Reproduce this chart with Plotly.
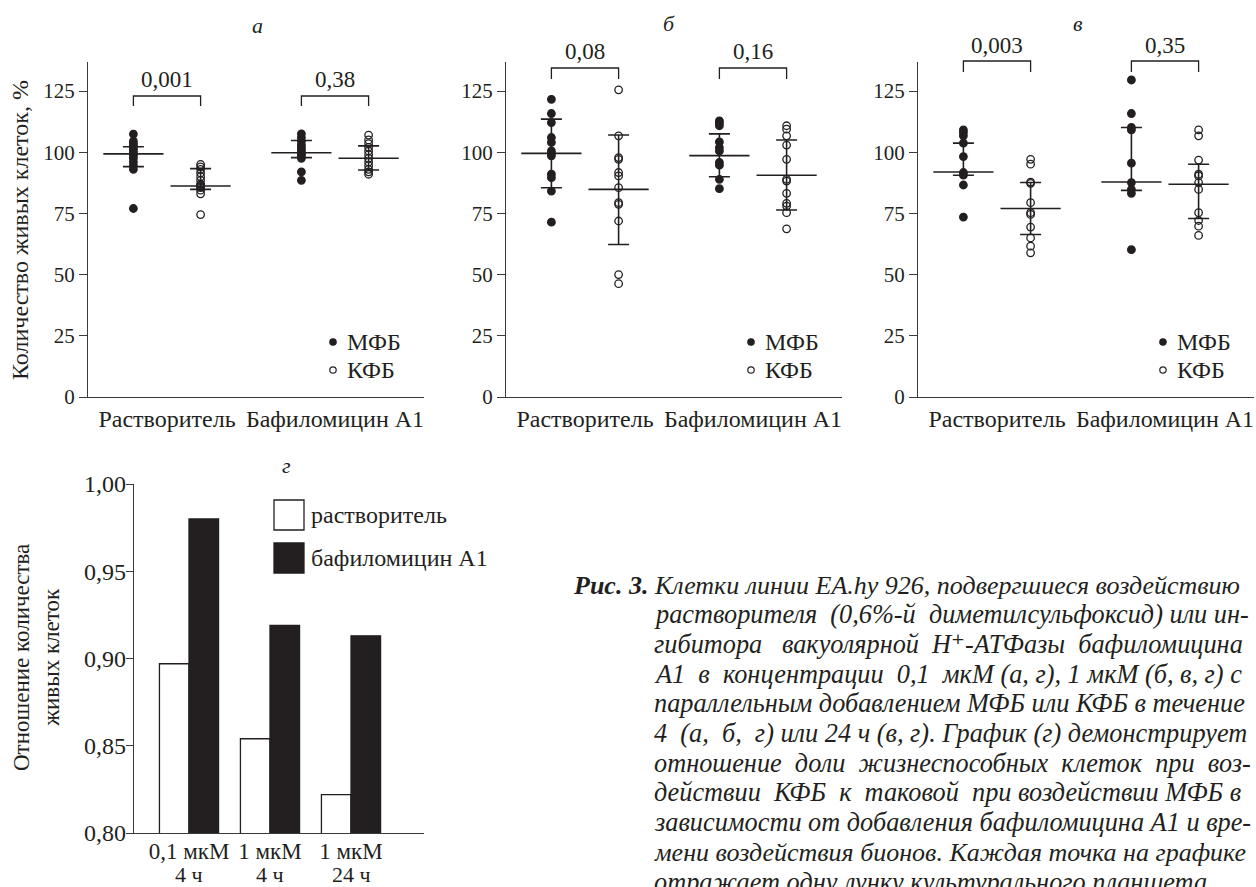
import plotly.graph_objects as go

W, H = 1256, 887
FONT = "'Liberation Serif', 'Times New Roman', Tinos, 'DejaVu Serif', serif"
INK = "#231f20"

# ---------------- data ----------------
groups = ["Растворитель", "Бафиломицин А1"]
series = ["МФБ", "КФБ"]
panel_titles = ["а", "б", "в"]
y_ticks = [0, 25, 50, 75, 100, 125]

# panel а  (0,1 мкМ, 4 ч)
a_mfb_solv = [107.4, 104.5, 103.5, 102.5, 101.5, 100.5, 99.5, 98.5, 97.5, 96, 94.5, 93, 77]
a_kfb_solv = [95, 94, 93, 91.5, 90, 88.5, 87, 86.5, 86, 85.5, 84.5, 83, 74.5]
a_mfb_baf = [107.5, 106, 104.5, 103, 102, 101, 100, 99.5, 98.5, 97.5, 92, 88.5]
a_kfb_baf = [107, 105, 103.5, 102, 100.5, 99, 97.5, 96, 94.5, 93, 92, 91]
a_center = [99.3, 86.2, 99.8, 97.5]
a_upper = [102.2, 93.3, 104.8, 102.6]
a_lower = [94.1, 84.8, 97.8, 92.7]
a_p = ["0,001", "0,38"]

# panel б  (1 мкМ, 4 ч)
b_mfb_solv = [121.6, 115.8, 112.1, 106.0, 104.0, 100.5, 99.5, 98.5, 91.0, 89.6, 84.1, 71.4]
b_kfb_solv = [125.5, 106.7, 97.8, 97.1, 91.7, 90.3, 85.5, 79.4, 78.7, 71.9, 50.0, 46.3]
b_mfb_baf = [112.8, 111.9, 110.8, 104.2, 101.9, 100.5, 95.8, 94.7, 88.9, 85.1]
b_kfb_baf = [110.8, 109.4, 106.7, 102.9, 97.1, 88.9, 88.2, 83.2, 79.1, 78.0, 75.3, 68.7]
b_center = [99.5, 84.8, 98.6, 90.6]
b_upper = [113.5, 107.0, 107.5, 105.0]
b_lower = [85.5, 62.3, 90.0, 76.4]
b_p = ["0,08", "0,16"]

# panel в  (1 мкМ, 24 ч)
c_mfb_solv = [109.1, 108.0, 106.7, 103.7, 98.2, 91.7, 90.6, 86.6, 73.5]
c_kfb_solv = [97.1, 95.1, 87.8, 87.3, 79.4, 75.3, 74.6, 69.4, 65.0, 61.6, 58.9]
c_mfb_baf = [129.5, 115.8, 110.1, 109.1, 95.5, 87.6, 84.8, 83.2, 60.2]
c_kfb_baf = [109.1, 106.7, 96.8, 91.0, 90.3, 87.6, 84.8, 75.3, 72.1, 69.8, 66.0]
c_center = [91.9, 77.0, 87.8, 86.9]
c_upper = [103.7, 87.6, 110.1, 95.1]
c_lower = [90.6, 66.4, 84.4, 72.9]
c_p = ["0,003", "0,35"]

# panel г
g_cat_line1 = ["0,1 мкМ", "1 мкМ", "1 мкМ"]
g_cat_line2 = ["4 ч", "4 ч", "24 ч"]
g_solvent = [0.897, 0.854, 0.822]
g_bafilomycin = [0.980, 0.919, 0.913]
g_series = ["растворитель", "бафиломицин А1"]
g_ticks = [0.80, 0.85, 0.90, 0.95, 1.00]

caption_lines = [
    "<b>Рис. 3.</b> Клетки линии EA.hy 926, подвергшиеся воздействию",
    "растворителя (0,6%-й диметилсульфоксид) или ин-",
    "гибитора вакуолярной H\u207a-АТФазы бафиломицина",
    "А1 в концентрации 0,1 мкМ (а, г), 1 мкМ (б, в, г) с",
    "параллельным добавлением МФБ или КФБ в течение",
    "4 (а, б, г) или 24 ч (в, г). График (г) демонстрирует",
    "отношение доли жизнеспособных клеток при воз-",
    "действии КФБ к таковой при воздействии МФБ в",
    "зависимости от добавления бафиломицина А1 и вре-",
    "мени воздействия бионов. Каждая точка на графике",
    "отражает одну лунку культурального планшета.",
]
# extra non-breaking spaces per line to imitate the justified typesetting
caption_extra = [0, 2, 4, 4, 0, 3, 5, 4, 0, 0, 0]
caption_size = [26, 26.3, 26.3, 26.3, 26.3, 26.3, 26.3, 26.3, 26.3, 26.0, 26.3]


def justify(text, extra):
    words = text.split(" ")
    gaps = len(words) - 1
    if extra <= 0 or gaps <= 0:
        return text
    out = words[0]
    for k in range(gaps):
        n = extra // gaps + (1 if k < extra % gaps else 0)
        out += " " + "\u00a0" * n + words[k + 1]
    return out


# ---------------- layout helpers ----------------
def px(x):
    return x / W


def py(y):
    return 1 - y / H


fig = go.Figure()
panels = [
    (a_mfb_solv, a_kfb_solv, a_mfb_baf, a_kfb_baf, a_center, a_upper, a_lower, a_p),
    (b_mfb_solv, b_kfb_solv, b_mfb_baf, b_kfb_baf, b_center, b_upper, b_lower, b_p),
    (c_mfb_solv, c_kfb_solv, c_mfb_baf, c_kfb_baf, c_center, c_upper, c_lower, c_p),
]
axis_left = [88, 506, 918]
PW = 336
PT, PB = 62, 397
UNIT = 168.0          # px per group
G0 = 79.0             # px from axis to first group centre
OFF = 0.2             # series offset in group units
bracket_y = [(96, 106, 80), (68, 79, 52), (61, 72, 46)]
title_pos = [(257, 26), (669, 23), (1078, 23)]

shapes = []
annotations = []
TICKF = dict(family=FONT, size=21, color=INK)
TF = dict(family=FONT, size=24, color=INK)
PF = dict(family=FONT, size=23, color=INK)


def ann(x, y, text, font, xanchor="center", yanchor="middle", xref="paper", yref="paper", **kw):
    annotations.append(dict(x=x, y=y, xref=xref, yref=yref, text=text, showarrow=False,
                            font=font, xanchor=xanchor, yanchor=yanchor, **kw))


for i, (ms, ks, mb, kb, cen, up, lo, pv) in enumerate(panels):
    xa = "x" + ("" if i == 0 else str(i + 1))
    ya = "y" + ("" if i == 0 else str(i + 1))
    cols = [ms, ks, mb, kb]
    xpos = [g + (-OFF if s == 0 else OFF) for g in range(2) for s in range(2)]
    for j, vals in enumerate(cols):
        filled = j % 2 == 0
        fig.add_trace(go.Scatter(
            x=[xpos[j]] * len(vals), y=vals, mode="markers",
            xaxis=xa, yaxis=ya, cliponaxis=False,
            marker=dict(symbol="circle" if filled else "circle-open", size=7.5,
                        color=INK, line=dict(color=INK, width=1.3)),
            showlegend=False, hoverinfo="y"))
    fig.add_trace(go.Scatter(
        x=xpos, y=cen, mode="markers", xaxis=xa, yaxis=ya, cliponaxis=False,
        marker=dict(symbol="line-ew", size=43, color=INK, line=dict(color=INK, width=1.6)),
        error_y=dict(type="data", symmetric=False,
                     array=[u - c for u, c in zip(up, cen)],
                     arrayminus=[c - l for c, l in zip(cen, lo)],
                     width=10.5, thickness=1.6, color=INK),
        showlegend=False, hoverinfo="y"))

    left = axis_left[i]
    rng = [-G0 / UNIT, (PW - G0) / UNIT]
    fig.update_layout(**{
        ("xaxis" if i == 0 else "xaxis%d" % (i + 1)): dict(
            domain=[px(left), px(left + PW)], range=rng, anchor=ya, automargin=False,
            tickvals=[0, 1], ticktext=groups, showline=True, linecolor="#3a3a3a",
            linewidth=1.2, ticks="", showgrid=False, zeroline=False,
            tickfont=TF, fixedrange=True),
        ("yaxis" if i == 0 else "yaxis%d" % (i + 1)): dict(
            domain=[py(PB), py(PT)], range=[0, (PB - PT) / 2.448], anchor=xa, automargin=False,
            tickvals=y_ticks, showline=True, linecolor="#3a3a3a", linewidth=1.2,
            ticks="outside", ticklen=8, tickcolor="#3a3a3a", tickwidth=1.2,
            showgrid=False, zeroline=False, tickfont=TICKF, fixedrange=True),
    })

    # brackets with p-values
    ytop, ybot, ytext = bracket_y[i]
    for g in range(2):
        x1, x2 = xpos[2 * g], xpos[2 * g + 1]
        shapes.append(dict(
            type="path", xref=xa, yref="paper",
            path="M %f,%f L %f,%f L %f,%f L %f,%f" % (x1, py(ybot), x1, py(ytop), x2, py(ytop), x2, py(ybot)),
            line=dict(color=INK, width=1.3)))
        ann((x1 + x2) / 2, py(ytext), pv[g], PF, xref=xa)

    # legend
    lx = left + 245
    for yy, fill in [(342, INK), (370, "white")]:
        shapes.append(dict(type="circle", xref="paper", yref="paper",
                           xsizemode="pixel", ysizemode="pixel",
                           xanchor=px(lx), yanchor=py(yy),
                           x0=-3.2, x1=3.2, y0=-3.2, y1=3.2,
                           fillcolor=fill, line=dict(color=INK, width=1.2)))
    for s, yy in zip(series, [342, 370]):
        ann(px(lx + 12), py(yy), s, TF, xanchor="left")

    tx, ty = title_pos[i]
    ann(px(tx), py(ty), "<i>%s</i>" % panel_titles[i], dict(family=FONT, size=22, color=INK))

ann(px(20), py(230), "Количество живых клеток, %", TF, textangle=-90)

# ---------------- panel г ----------------
fig.add_trace(go.Bar(
    x=[0, 1, 2], y=g_solvent, name=g_series[0], xaxis="x4", yaxis="y4",
    marker=dict(color="white", line=dict(color=INK, width=1.3)), showlegend=False))
fig.add_trace(go.Bar(
    x=[0, 1, 2], y=g_bafilomycin, name=g_series[1], xaxis="x4", yaxis="y4",
    marker=dict(color=INK, line=dict(color=INK, width=1.3)), showlegend=False))

GU = 81.0
GF = dict(family=FONT, size=23, color=INK)
GF2 = dict(family=FONT, size=22, color=INK)
fig.update_layout(
    xaxis4=dict(domain=[px(134), px(424)], range=[-55 / GU, (424 - 189) / GU], anchor="y4",
                automargin=False,
                tickvals=[0, 1, 2], ticktext=g_cat_line1, showline=True,
                linecolor="#3a3a3a", linewidth=1.2, ticks="", showgrid=False, zeroline=False,
                ticklabelstandoff=-3, tickfont=GF, fixedrange=True),
    yaxis4=dict(domain=[py(833), py(484)], range=[0.8, 1.0], anchor="x4", automargin=False,
                tickvals=g_ticks, tickformat=".2f", showline=True, linecolor="#3a3a3a",
                linewidth=1.2, ticks="outside", ticklen=7, tickcolor="#3a3a3a", tickwidth=1.2,
                ticklabelstandoff=-5,
                showgrid=False, zeroline=False, tickfont=TF, fixedrange=True),
    barmode="group", bargap=0.27, bargroupgap=0,
)
for k, t in enumerate(g_cat_line2):
    ann(k, py(874), t, GF2, xref="x4")

# legend of panel г
shapes.append(dict(type="rect", xref="paper", yref="paper",
                   x0=px(274), x1=px(304), y0=py(530), y1=py(500),
                   fillcolor="white", line=dict(color=INK, width=1.3)))
shapes.append(dict(type="rect", xref="paper", yref="paper",
                   x0=px(274), x1=px(304), y0=py(573), y1=py(543),
                   fillcolor=INK, line=dict(color=INK, width=1.3)))
for s, yy in zip(g_series, [515, 558]):
    ann(px(309), py(yy), s, TF, xanchor="left")
ann(px(286), py(465), "<i>г</i>", dict(family=FONT, size=22, color=INK))
ann(px(36), py(658), "Отношение количества<br>живых клеток",
    dict(family=FONT, size=23, color=INK), textangle=-90)

# caption
for k, line in enumerate(caption_lines):
    x0 = 571 if k == 0 else 652
    ann(px(x0), py(585 + 29.7 * k), "<i>%s</i>" % justify(line, caption_extra[k]),
        dict(family=FONT, size=caption_size[k], color=INK), xanchor="left", align="left")

fig.update_layout(
    width=W, height=H, margin=dict(l=0, r=0, t=0, b=0, pad=0, autoexpand=False),
    paper_bgcolor="white", plot_bgcolor="white", separators=", ",
    shapes=shapes, annotations=annotations, showlegend=False,
    font=dict(family=FONT, color=INK),
)

fig.write_html("out.html", config={"displayModeBar": False},
               post_script="document.body.style.margin='0';document.body.style.overflow='hidden';")
